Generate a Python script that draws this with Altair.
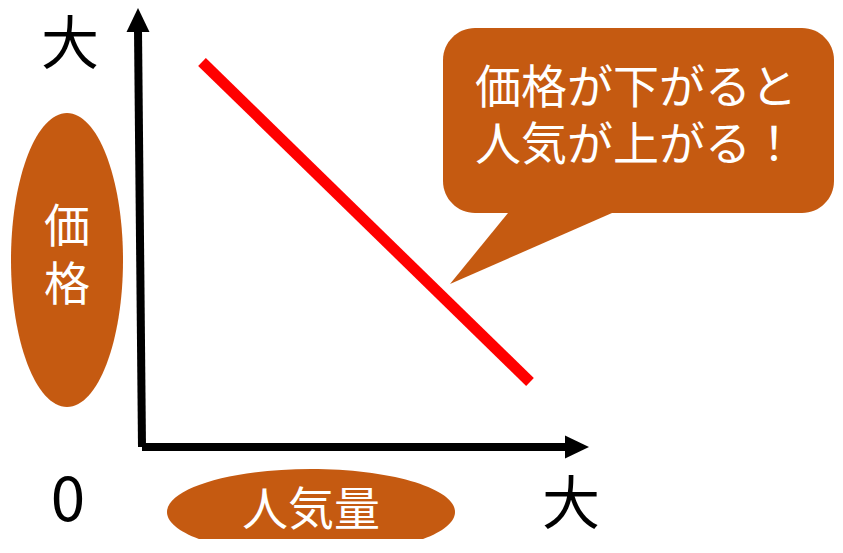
import altair as alt
import pandas as pd

# ---------------- data (chart units: x 8..835 across, y 8..539 downward) ----------------
# axis stems: start and end point of each axis
axis_name = ["価格軸", "人気量軸"]
axis_x0 = [142, 142]
axis_y0 = [447, 447]
axis_x1 = [138, 566]
axis_y1 = [30, 447]

# arrow tips of the axes
tip_name = ["up", "right"]
tip_x = [138, 589]
tip_y = [8, 447]

# the red relation line (price vs popularity)
rel_x = [202, 530]
rel_y = [62, 382]

# end labels of the axes
end_text = ["大", "大"]
end_x = [70, 571]
end_y = [47, 507]
zero_text = ["0"]
zero_x = [68]
zero_y = [502]

# axis-title ovals
oval_text = ["価\n格", "人気量"]
oval_cx = [67, 311]
oval_cy = [260, 512]
oval_rx = [56, 144]
oval_ry = [147, 43]
oval_text_y = [229, 512]   # centre of the first text line

# speech bubble
bubble_text = ["価格が下がると\n人気が上がる！"]
bubble_x0, bubble_x1 = [443], [834]
bubble_y0, bubble_y1 = [28], [213]
tail_x = [508, 612, 450]   # base-left, base-right, tip
tail_y = [213, 213, 284]
bubble_text_x = [475]
bubble_text_y = [90]       # centre of the first text line

# ---------------- styles ----------------
BROWN = "#C55A11"
FONT = "Noto Sans CJK JP"
W, H = 827, 531

xs = alt.Scale(domain=[8, 8 + W], nice=False, zero=False)
ys = alt.Scale(domain=[8, 8 + H], nice=False, zero=False, reverse=True)


def X(f):
    return alt.X(f, type="quantitative", scale=xs, axis=None)


def Y(f):
    return alt.Y(f, type="quantitative", scale=ys, axis=None)


def ellipse_path(rx, ry):
    k = 0.5523
    return (f"M0,{-ry}C{k*rx:.2f},{-ry},{rx},{-k*ry:.2f},{rx},0"
            f"C{rx},{k*ry:.2f},{k*rx:.2f},{ry},0,{ry}"
            f"C{-k*rx:.2f},{ry},{-rx},{k*ry:.2f},{-rx},0"
            f"C{-rx},{-k*ry:.2f},{-k*rx:.2f},{-ry},0,{-ry}Z")


layers = []

# ovals
for i in range(len(oval_text)):
    d = pd.DataFrame({"x": [oval_cx[i]], "y": [oval_cy[i]]})
    layers.append(
        alt.Chart(d).mark_point(shape=ellipse_path(oval_rx[i], oval_ry[i]), size=4,
                                filled=True, color=BROWN, opacity=1, strokeWidth=0)
        .encode(x=X("x"), y=Y("y"))
    )

# bubble body
bub = pd.DataFrame({"x0": bubble_x0, "x1": bubble_x1, "y0": bubble_y0, "y1": bubble_y1})
layers.append(
    alt.Chart(bub).mark_rect(color=BROWN, cornerRadius=32)
    .encode(x=X("x0"), x2="x1", y=Y("y0"), y2="y1")
)

# bubble tail (triangle drawn as a symbol anchored on its tip)
tx, ty = tail_x[2], tail_y[2]
tail_path = (f"M0,0L{tail_x[0]-tx},{tail_y[0]-ty}"
             f"L{tail_x[1]-tx},{tail_y[1]-ty}Z")
layers.append(
    alt.Chart(pd.DataFrame({"x": [tx], "y": [ty]}))
    .mark_point(shape=tail_path, size=4, filled=True, color=BROWN, opacity=1, strokeWidth=0)
    .encode(x=X("x"), y=Y("y"))
)

# red relation line
rel = pd.DataFrame({"x": [rel_x[0]], "y": [rel_y[0]], "x2": [rel_x[1]], "y2": [rel_y[1]]})
layers.append(
    alt.Chart(rel).mark_rule(color="#FF0000", strokeWidth=11, strokeCap="butt")
    .encode(x=X("x"), y=Y("y"), x2="x2", y2="y2")
)

# axes stems
ax = pd.DataFrame({"name": axis_name, "x": axis_x0, "y": axis_y0, "x2": axis_x1, "y2": axis_y1})
layers.append(
    alt.Chart(ax).mark_rule(color="#000000", strokeWidth=8, strokeCap="butt")
    .encode(x=X("x"), y=Y("y"), x2="x2", y2="y2")
)

# arrow heads
AL, AHW = 24, 11.5
head_paths = {"up": f"M0,0L{AHW},{AL}L{-AHW},{AL}Z",
              "right": f"M0,0L{-AL},{-AHW}L{-AL},{AHW}Z"}
for i, nm in enumerate(tip_name):
    layers.append(
        alt.Chart(pd.DataFrame({"x": [tip_x[i]], "y": [tip_y[i]]}))
        .mark_point(shape=head_paths[nm], size=4, filled=True, color="#000000",
                    opacity=1, strokeWidth=0)
        .encode(x=X("x"), y=Y("y"))
    )

# end labels
layers.append(
    alt.Chart(pd.DataFrame({"t": end_text, "x": end_x, "y": end_y}))
    .mark_text(font=FONT, fontSize=58, color="#000000", align="center",
               baseline="middle", dy=0)
    .encode(x=X("x"), y=Y("y"), text="t:N")
)
layers.append(
    alt.Chart(pd.DataFrame({"t": zero_text, "x": zero_x, "y": zero_y}))
    .mark_text(font=FONT, fontSize=62, color="#000000", align="center",
               baseline="middle", dy=0)
    .encode(x=X("x"), y=Y("y"), text="t:N")
)

# oval labels
layers.append(
    alt.Chart(pd.DataFrame({"t": oval_text, "x": oval_cx, "y": oval_text_y}))
    .mark_text(font=FONT, fontSize=46, color="#FFFFFF", align="center",
               baseline="middle", dy=-1, lineBreak="\n", lineHeight=58)
    .encode(x=X("x"), y=Y("y"), text="t:N")
)

# bubble text
layers.append(
    alt.Chart(pd.DataFrame({"t": bubble_text, "x": bubble_text_x, "y": bubble_text_y}))
    .mark_text(font=FONT, fontSize=46, color="#FFFFFF", align="left",
               baseline="middle", dy=-1, lineBreak="\n", lineHeight=57)
    .encode(x=X("x"), y=Y("y"), text="t:N")
)

chart = (
    alt.layer(*layers)
    .properties(width=W, height=H, padding=0, autosize=alt.AutoSizeParams(type="none"),
                background="#FFFFFF")
    .configure_view(stroke=None)
)

chart.save("out.html", embed_options={"renderer": "svg", "actions": False})
